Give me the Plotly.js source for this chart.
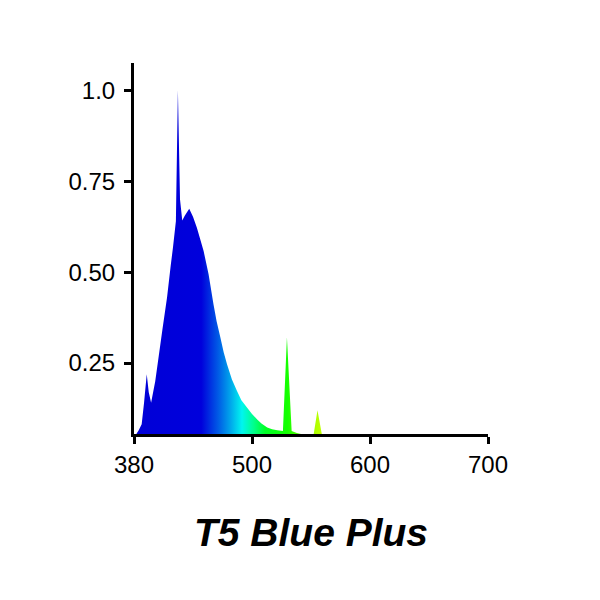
<!DOCTYPE html>
<html>
<head>
<meta charset="utf-8">
<script src="https://cdn.plot.ly/plotly-3.0.1.min.js"></script>
<style>html,body{margin:0;padding:0;background:#fff;}#chart{width:600px;height:600px;}</style>
</head>
<body>
<div id="chart"></div>
<script>
// Wavelength (nm) and relative intensity
const wavelength = [400, 402, 404, 406.5, 408.5, 410.8, 412.5, 414.5, 418, 421, 424, 428, 431, 433, 435.5, 437.2, 439, 440.9, 443, 446.8, 450, 453.3, 456, 459, 463.2, 467.4, 470, 473.2, 476, 478.9, 483, 487.3, 491, 495.9, 500, 504.4, 508, 512.9, 517, 521.4, 526.2, 529.6, 533.6, 538, 542.7, 548, 551.8, 555.5, 559.7, 565, 580, 600, 650, 700];
const intensity  = [0.03, 0.055, 0.065, 0.082, 0.14, 0.219, 0.17, 0.141, 0.2, 0.27, 0.34, 0.43, 0.515, 0.567, 0.64, 1.0, 0.70, 0.642, 0.655, 0.674, 0.652, 0.622, 0.592, 0.558, 0.494, 0.411, 0.365, 0.32, 0.28, 0.246, 0.205, 0.173, 0.148, 0.127, 0.11, 0.095, 0.084, 0.073, 0.068, 0.065, 0.063, 0.321, 0.063, 0.058, 0.054, 0.045, 0.045, 0.12, 0.045, 0.03, 0.02, 0.02, 0.02, 0.02];

const tickVals   = [400, 500, 600, 700];
const tickLabels = ['380', '500', '600', '700'];
const yTickVals  = [0.25, 0.5, 0.75, 1.0];
const yTickLabels = ['0.25', '0.50', '0.75', '1.0'];
const chartTitle = 'T5 Blue Plus';

// spectral colour ramp (400..700 nm mapped to 0..1)
const spectrum = [
  [0.000, 'rgb(0,0,215)'],
  [0.190, 'rgb(0,0,220)'],
  [0.240, 'rgb(0,95,230)'],
  [0.272, 'rgb(0,165,235)'],
  [0.305, 'rgb(0,245,240)'],
  [0.338, 'rgb(0,255,140)'],
  [0.370, 'rgb(0,255,40)'],
  [0.433, 'rgb(20,255,0)'],
  [0.517, 'rgb(180,255,0)'],
  [0.600, 'rgb(255,255,0)'],
  [0.800, 'rgb(255,60,0)'],
  [1.000, 'rgb(255,0,0)']
];

const trace = {
  x: wavelength,
  y: intensity,
  type: 'scatter',
  mode: 'none',
  fill: 'tozeroy',
  fillgradient: {type: 'horizontal', start: 400, stop: 700, colorscale: spectrum},
  hoverinfo: 'skip'
};

const font = {family: 'Liberation Sans, Arial, sans-serif', color: '#000'};

const layout = {
  width: 600, height: 600,
  margin: {l: 134, r: 112, t: 63, b: 166, pad: 0},
  paper_bgcolor: '#fff', plot_bgcolor: '#fff',
  showlegend: false,
  xaxis: {
    range: [400, 700],
    tickvals: tickVals, ticktext: tickLabels,
    showgrid: false, zeroline: false,
    showline: true, linecolor: '#000', linewidth: 3,
    ticks: 'outside', ticklen: 7, tickwidth: 3, tickcolor: '#000',
    tickfont: Object.assign({size: 24}, font),
    title: {text: chartTitle, standoff: 42,
            font: Object.assign({size: 39, weight: 'bold', style: 'italic'}, font)}
  },
  yaxis: {
    range: [0.055, 1.075],
    tickvals: yTickVals, ticktext: yTickLabels,
    showgrid: false, zeroline: false,
    showline: true, linecolor: '#000', linewidth: 3,
    ticks: 'outside', ticklen: 7, tickwidth: 3, tickcolor: '#000',
    ticklabelstandoff: 4,
    tickfont: Object.assign({size: 24}, font)
  }
};

Plotly.newPlot('chart', [trace], layout, {staticPlot: true, displayModeBar: false});
</script>
</body>
</html>
